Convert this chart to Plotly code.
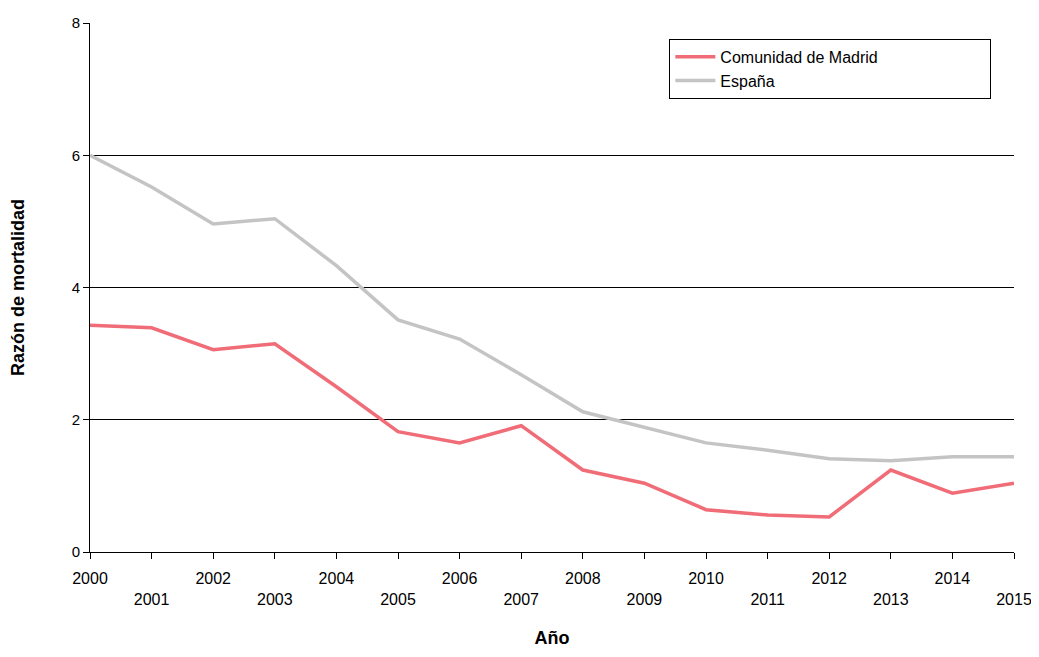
import plotly.graph_objects as go

years = list(range(2000, 2016))
madrid = [3.43, 3.39, 3.06, 3.15, 2.5, 1.82, 1.65, 1.91, 1.24, 1.04, 0.64, 0.56, 0.53, 1.24, 0.89, 1.04]
espana = [6.0, 5.52, 4.96, 5.04, 4.33, 3.51, 3.22, 2.68, 2.12, 1.88, 1.65, 1.54, 1.41, 1.38, 1.44, 1.44]
tick_text = [str(y) if y % 2 == 0 else "<br>" + str(y) for y in years]

fig = go.Figure()
fig.add_trace(go.Scatter(x=years, y=madrid, mode="lines", name="Comunidad de Madrid" + "\u00a0" * 24,
                         line=dict(color="#f06d78", width=3.5)))
fig.add_trace(go.Scatter(x=years, y=espana, mode="lines", name="España",
                         line=dict(color="#c4c4c4", width=3.5)))
fig.update_layout(
    width=1039, height=657, plot_bgcolor="white", paper_bgcolor="white",
    margin=dict(l=82, r=33, t=15, b=113, autoexpand=False),
    font=dict(family="Liberation Sans, Arial", size=15, color="black"),
    legend=dict(x=0.627, y=0.97, xanchor="left", yanchor="top", bordercolor="black",
                borderwidth=1, bgcolor="white", font=dict(size=16), itemwidth=40,
                tracegroupgap=8),
    xaxis=dict(range=[2000, 2015], tickvals=years, ticktext=tick_text, showgrid=False,
               showline=True, linecolor="black", ticks="outside", ticklen=6, tickcolor="black",
               title=dict(text="<b>Año</b>", standoff=24), tickangle=0, automargin=False,
               tickfont=dict(size=16), ticklabelstandoff=6),
    yaxis=dict(range=[0, 8], tickvals=[0, 2, 4, 6, 8], showgrid=True, gridcolor="black",
               gridwidth=1, showline=True, linecolor="black", ticks="outside", ticklen=6,
               tickcolor="black", zeroline=False, automargin=False,
               title=dict(text="<b>Razón de mortalidad</b>", standoff=42)),
)
fig.write_html("out.html")
